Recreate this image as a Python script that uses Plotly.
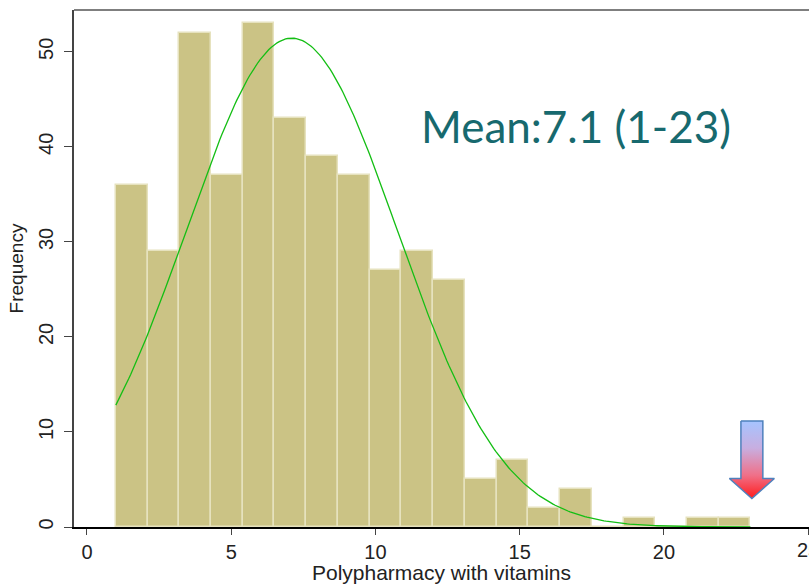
import numpy as np
import plotly.graph_objects as go

# ---- data ----
bin_start = 1.0
bin_width = 1.1
counts = [36, 29, 52, 37, 53, 43, 39, 37, 27, 29, 26, 5, 7, 2, 4, 0, 1, 0, 1, 1]
mean_value = 7.1
sd_value = 3.66
min_value = 1
max_value = 23
x_ticks = [0, 5, 10, 15, 20, 25]
y_ticks = [0, 10, 20, 30, 40, 50]
x_title = "Polypharmacy with vitamins"
y_title = "Frequency"
note_text = "Mean:7.1 (1-23)"

# ---- derived ----
n_total = sum(counts)
bar_centers = [bin_start + bin_width * (i + 0.5) for i in range(len(counts))]

# fitted normal density overlay (Stata "normal" option), scaled to frequency
curve_x = np.linspace(min_value, max_value, 300)
curve_y = (n_total * bin_width / (sd_value * np.sqrt(2 * np.pi))
           * np.exp(-0.5 * ((curve_x - mean_value) / sd_value) ** 2))

fig = go.Figure()

fig.add_trace(go.Bar(
    x=bar_centers, y=counts, width=bin_width,
    marker=dict(color="rgb(203,195,133)",
                line=dict(color="rgb(230,226,190)", width=1.5)),
    hoverinfo="x+y", showlegend=False,
))

fig.add_trace(go.Scatter(
    x=curve_x, y=curve_y, mode="lines",
    line=dict(color="rgb(20,190,20)", width=1.3),
    showlegend=False, hoverinfo="skip",
))

# arrow marker pointing at the maximum value
tip_y, head_y, top_y = 3.0, 5.1, 11.15
shaft_hw, head_hw = 0.38, 0.78
ax = max_value + 0.05
arrow_x = [ax - shaft_hw, ax + shaft_hw, ax + shaft_hw, ax + head_hw, ax,
           ax - head_hw, ax - shaft_hw, ax - shaft_hw]
arrow_y = [top_y, top_y, head_y, head_y, tip_y, head_y, head_y, top_y]
fig.add_trace(go.Scatter(
    x=arrow_x, y=arrow_y, mode="lines", fill="toself",
    line=dict(color="#4F81BD", width=1.5),
    fillgradient=dict(type="vertical",
                      colorscale=[[0, "#FF1C1C"], [0.3, "#F07088"],
                                  [0.65, "#C8AEE0"], [1, "#A6C4FF"]]),
    showlegend=False, hoverinfo="skip",
))

fig.add_annotation(
    x=11.5, y=42.2, xref="x", yref="y", text=note_text, showarrow=False,
    xanchor="left", yanchor="middle",
    font=dict(family="Lato", size=44, color="#17696E"),
)

# last tick label sits on the window edge (half cut, as in the reference)
fig.add_annotation(
    x=x_ticks[-1], y=0, xref="x", yref="paper", text=str(x_ticks[-1]),
    showarrow=False, xanchor="center", yanchor="middle", yshift=-23,
    font=dict(family="Liberation Sans, Arial, sans-serif", size=20, color="#222222"),
)

# top frame line
fig.add_shape(type="line", xref="paper", yref="paper", x0=0, x1=1, y0=1, y1=1,
              line=dict(color="#555555", width=1.5))

fig.update_layout(
    width=809, height=584,
    margin=dict(l=74, r=0, t=10, b=57),
    paper_bgcolor="white", plot_bgcolor="white",
    template="none",
    bargap=0,
    font=dict(family="Liberation Sans, Arial, sans-serif", color="#222222"),
)

fig.update_xaxes(
    range=[-0.45, 25.03], tickvals=x_ticks, ticktext=[str(v) for v in x_ticks],
    showgrid=False, zeroline=False,
    showline=True, linecolor="black", linewidth=2,
    ticks="outside", ticklen=6, tickcolor="#444444", tickwidth=1.3,
    tickfont=dict(size=20, color="#222222"),
    title=dict(text=x_title, font=dict(size=21, color="#222222"), standoff=0),
    automargin=False,
)
fig.update_yaxes(
    range=[0, 54.4], tickvals=y_ticks, ticktext=[str(v) for v in y_ticks],
    showgrid=False, zeroline=False,
    showline=True, linecolor="#444444", linewidth=1.5,
    ticks="outside", ticklen=8, tickcolor="#444444", tickwidth=1.3,
    tickangle=-90, ticklabelstandoff=3,
    tickfont=dict(size=20, color="#222222"),
    title=dict(text=y_title, font=dict(size=19, color="#222222"), standoff=7),
    automargin=False,
)

fig.write_html("out.html",
               config={"displayModeBar": False},
               post_script="document.body.style.margin='0';document.body.style.overflow='hidden';")
